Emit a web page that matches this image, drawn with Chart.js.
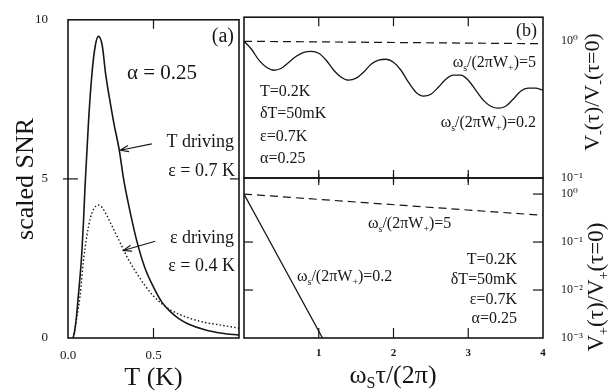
<!DOCTYPE html>
<html>
<head>
<meta charset="utf-8">
<script src="https://cdn.jsdelivr.net/npm/chart.js@4.4.1/dist/chart.umd.min.js"></script>
<style>
  body { margin: 0; background: #fff; }
  #wrap { position: relative; width: 612px; height: 391px; background: #fff; }
  #wrap canvas { position: absolute; left: 0; top: 0; }
</style>
</head>
<body>
<div id="wrap">
  <canvas id="snrChart" width="612" height="391"></canvas>
  <canvas id="upperChart" width="612" height="391"></canvas>
  <canvas id="lowerChart" width="612" height="391"></canvas>
</div>
<script>
// panel (a): scaled SNR against temperature
const tempTDrive = [0.03, 0.04, 0.05, 0.06, 0.07, 0.08, 0.09, 0.10, 0.12, 0.14, 0.16, 0.178, 0.20, 0.22, 0.25, 0.27, 0.30, 0.325, 0.35, 0.40, 0.45, 0.50, 0.55, 0.60, 0.65, 0.70, 0.80, 0.90, 1.00];
const snrTDrive = [0, 0.25, 0.7, 1.3, 1.9, 2.6, 3.6, 4.8, 6.8, 8.3, 9.2, 9.48, 9.2, 8.3, 7.3, 6.7, 5.9, 5.0, 4.3, 3.1, 2.2, 1.6, 1.12, 0.82, 0.6, 0.45, 0.26, 0.15, 0.09];
const tempEpsDrive = [0.03, 0.05, 0.07, 0.09, 0.11, 0.13, 0.15, 0.178, 0.20, 0.25, 0.30, 0.35, 0.40, 0.45, 0.50, 0.55, 0.60, 0.70, 0.80, 0.90, 1.00];
const snrEpsDrive = [0, 0.6, 1.3, 2.4, 3.2, 3.75, 4.05, 4.18, 4.1, 3.6, 3.05, 2.5, 2.05, 1.65, 1.32, 1.07, 0.88, 0.64, 0.49, 0.40, 0.31];
const snrTicks = [0, 5, 10];
const tempTicks = [0, 0.5];
const tempTickLabels = ['0.0', '0.5'];

// panel (b) top: V-(tau)/V-(tau=0)
const tauSlowMinus = [0, 0.1, 0.2, 0.3, 0.4, 0.5, 0.6, 0.7, 0.8, 0.9, 1.0, 1.1, 1.2, 1.3, 1.4, 1.5, 1.6, 1.7, 1.8, 1.9, 2.0, 2.1, 2.2, 2.3, 2.4, 2.5, 2.6, 2.7, 2.8, 2.9, 3.0, 3.1, 3.2, 3.3, 3.4, 3.5, 3.6, 3.7, 3.8, 3.9, 4.0];
const vSlowMinus = [1.0, 0.874, 0.727, 0.646, 0.614, 0.635, 0.703, 0.777, 0.831, 0.845, 0.818, 0.727, 0.614, 0.546, 0.519, 0.537, 0.594, 0.679, 0.727, 0.739, 0.703, 0.614, 0.502, 0.424, 0.397, 0.410, 0.461, 0.528, 0.565, 0.565, 0.519, 0.439, 0.371, 0.335, 0.324, 0.335, 0.377, 0.431, 0.454, 0.454, 0.439];
const tauFastMinus = [0, 4];
const vFastMinus = [1.0, 0.96];
const minusTicks = [0.1, 1];
const minusTickLabels = ['10⁻¹', '10⁰'];

// panel (b) bottom: V+(tau)/V+(tau=0)
const tauSlowPlus = [0, 1.05];
const vSlowPlus = [1.0, 0.001];
const tauFastPlus = [0, 4];
const vFastPlus = [1.0, 0.36];
const plusTicks = [0.001, 0.01, 0.1, 1];
const plusTickLabels = ['10⁻³', '10⁻²', '10⁻¹', '10⁰'];
const tauTicks = [1, 2, 3, 4];

const INK = '#161616';
const SERIF = '"Liberation Serif", "DejaVu Serif", serif';
Chart.defaults.font.family = SERIF;
Chart.defaults.color = INK;

function zip(xs, ys) {
  return xs.map((x, i) => ({ x: x, y: ys[i] }));
}

// text with sub/superscripts, y is the middle of the capitals
function drawRich(ctx, item) {
  const size = item.size;
  ctx.save();
  ctx.translate(item.x, item.y);
  if (item.rot) ctx.rotate(item.rot);
  const fonts = item.parts.map(p => (p[1] ? Math.round(size * 0.62) : size) + 'px ' + SERIF);
  let w = 0;
  item.parts.forEach((p, i) => { ctx.font = fonts[i]; w += ctx.measureText(p[0]).width; });
  let cx = item.align === 'right' ? -w : item.align === 'center' ? -w / 2 : 0;
  ctx.textAlign = 'left';
  ctx.textBaseline = 'alphabetic';
  ctx.fillStyle = INK;
  item.parts.forEach((p, i) => {
    ctx.font = fonts[i];
    const dy = p[1] === 'sub' ? size * 0.22 : p[1] === 'sup' ? -size * 0.4 : 0;
    ctx.fillText(p[0], cx, size * 0.33 + dy);
    cx += ctx.measureText(p[0]).width;
  });
  ctx.restore();
}

// box round the plot area and the inward tick marks
const framePlugin = {
  id: 'frame',
  afterDatasetsDraw(chart, args, opts) {
    const { ctx, chartArea: a, scales } = chart;
    ctx.save();
    ctx.strokeStyle = INK;
    ctx.lineWidth = opts.width || 1.6;
    ctx.strokeRect(a.left, a.top, a.right - a.left, a.bottom - a.top);
    ctx.lineWidth = 1.2;
    (opts.marks || []).forEach(m => {
      const s = scales[m.scale];
      const out = m.out || 0;
      m.values.forEach(v => {
        const p = s.getPixelForValue(v);
        ctx.beginPath();
        if (m.side === 'top') { ctx.moveTo(p, a.top - out); ctx.lineTo(p, a.top + m.len); }
        if (m.side === 'bottom') { ctx.moveTo(p, a.bottom + out); ctx.lineTo(p, a.bottom - m.len); }
        if (m.side === 'left') { ctx.moveTo(a.left - out, p); ctx.lineTo(a.left + m.len, p); }
        if (m.side === 'right') { ctx.moveTo(a.right + out, p); ctx.lineTo(a.right - m.len, p); }
        ctx.stroke();
      });
    });
    ctx.restore();
  }
};

const notesPlugin = {
  id: 'notes',
  afterDraw(chart, args, opts) {
    const { ctx, scales } = chart;
    (opts.items || []).forEach(it => drawRich(ctx, it));
    ctx.save();
    ctx.strokeStyle = INK;
    ctx.lineWidth = 1.1;
    (opts.arrows || []).forEach(ar => {
      const x0 = scales.x.getPixelForValue(ar.from[0]), y0 = scales.y.getPixelForValue(ar.from[1]);
      const x1 = scales.x.getPixelForValue(ar.to[0]), y1 = scales.y.getPixelForValue(ar.to[1]);
      const ang = Math.atan2(y1 - y0, x1 - x0);
      ctx.beginPath();
      ctx.moveTo(x0, y0);
      ctx.lineTo(x1, y1);
      ctx.moveTo(x1 - 9 * Math.cos(ang - 0.35), y1 - 9 * Math.sin(ang - 0.35));
      ctx.lineTo(x1, y1);
      ctx.lineTo(x1 - 9 * Math.cos(ang + 0.35), y1 - 9 * Math.sin(ang + 0.35));
      ctx.stroke();
    });
    ctx.restore();
  }
};

const omega = (tail) => [['ω'], ['s', 'sub'], ['/(2πW'], ['+', 'sub'], [')=' + tail]];

const lineStyle = { borderColor: INK, pointRadius: 0, fill: false, cubicInterpolationMode: 'monotone' };

// ---- panel (a)
new Chart(document.getElementById('snrChart'), {
  type: 'line',
  data: {
    datasets: [
      { ...lineStyle, label: 'T driving', data: zip(tempTDrive, snrTDrive), borderWidth: 1.6 },
      { ...lineStyle, label: 'ε driving', data: zip(tempEpsDrive, snrEpsDrive), borderWidth: 1.4, borderDash: [1.5, 2.2] }
    ]
  },
  options: {
    responsive: false,
    animation: false,
    layout: { padding: { left: 0, top: 16, right: 373, bottom: 0 } },
    plugins: {
      legend: { display: false },
      tooltip: { enabled: false },
      frame: {
        marks: [
          { scale: 'x', values: [0.5], side: 'top', len: 9 },
          { scale: 'x', values: [0.5], side: 'bottom', len: 10 },
          { scale: 'y', values: [5], side: 'left', len: 10, out: 5 },
          { scale: 'y', values: [5], side: 'right', len: 9 }
        ]
      },
      notes: {
        items: [
          { parts: [['(a)']], x: 234, y: 35, size: 20, align: 'right' },
          { parts: [['α = 0.25']], x: 127, y: 72, size: 21, align: 'left' },
          { parts: [['T driving']], x: 234, y: 141, size: 18, align: 'right' },
          { parts: [['ε = 0.7 K']], x: 235, y: 170, size: 18, align: 'right' },
          { parts: [['ε driving']], x: 234, y: 237, size: 18, align: 'right' },
          { parts: [['ε = 0.4 K']], x: 235, y: 265, size: 18, align: 'right' }
        ],
        arrows: [
          { from: [0.49, 6.1], to: [0.305, 5.9] },
          { from: [0.51, 3.04], to: [0.323, 2.75] }
        ]
      }
    },
    scales: {
      x: {
        type: 'linear', min: 0, max: 1,
        grid: { display: false }, border: { display: false },
        afterBuildTicks: s => { s.ticks = tempTicks.map(v => ({ value: v })); },
        afterFit: s => { s.height = 53; },
        ticks: { padding: 2, font: { size: 13 }, color: INK, callback: v => tempTickLabels[tempTicks.indexOf(v)] },
        title: { display: true, text: 'T (K)', font: { size: 26, lineHeight: 1 }, padding: 0, color: INK }
      },
      y: {
        type: 'linear', min: 0, max: 10, position: 'left',
        grid: { display: false }, border: { display: false },
        afterBuildTicks: s => { s.ticks = snrTicks.map(v => ({ value: v })); },
        afterFit: s => { s.width = 68; },
        ticks: { padding: 12, font: { size: 13 }, color: INK },
        title: { display: true, text: 'scaled SNR', font: { size: 26, lineHeight: 1 }, padding: { top: 13, bottom: 0 }, color: INK }
      }
    }
  },
  plugins: [framePlugin, notesPlugin]
});

// ---- panel (b), upper half
new Chart(document.getElementById('upperChart'), {
  type: 'line',
  data: {
    datasets: [
      { ...lineStyle, label: 'ω/(2πW+)=5', data: zip(tauFastMinus, vFastMinus), borderWidth: 1.2, borderDash: [8, 5] },
      { ...lineStyle, label: 'ω/(2πW+)=0.2', data: zip(tauSlowMinus, vSlowMinus), borderWidth: 1.3 }
    ]
  },
  options: {
    responsive: false,
    animation: false,
    layout: { padding: { left: 244, top: 17, right: 0, bottom: 213 } },
    plugins: {
      legend: { display: false },
      tooltip: { enabled: false },
      frame: {
        marks: [
          { scale: 'x', values: [1, 2, 3], side: 'top', len: 9 },
          { scale: 'x', values: [1, 2, 3], side: 'bottom', len: 8, out: 4 }
        ]
      },
      notes: {
        items: [
          { parts: [['(b)']], x: 537, y: 30, size: 18, align: 'right' },
          { parts: omega('5'), x: 536, y: 62, size: 16, align: 'right' },
          { parts: omega('0.2'), x: 536, y: 122, size: 16, align: 'right' },
          { parts: [['T=0.2K']], x: 260, y: 91, size: 16, align: 'left' },
          { parts: [['δT=50mK']], x: 260, y: 113, size: 16, align: 'left' },
          { parts: [['ε=0.7K']], x: 260, y: 136, size: 16, align: 'left' },
          { parts: [['α=0.25']], x: 260, y: 158, size: 16, align: 'left' },
          { parts: [['V'], ['-', 'sub'], ['(τ)/V'], ['-', 'sub'], ['(τ=0)']], x: 592, y: 92, size: 22, align: 'center', rot: -Math.PI / 2 }
        ]
      }
    },
    scales: {
      x: { type: 'linear', min: 0, max: 4, display: false },
      y: {
        type: 'logarithmic', min: 0.1, max: 1.5, position: 'right',
        grid: { display: false }, border: { display: false },
        afterBuildTicks: s => { s.ticks = minusTicks.map(v => ({ value: v })); },
        afterFit: s => { s.width = 69; },
        ticks: { padding: 10, font: { size: 12 }, color: INK, callback: v => minusTickLabels[minusTicks.indexOf(v)] }
      }
    }
  },
  plugins: [framePlugin, notesPlugin]
});

// ---- panel (b), lower half
new Chart(document.getElementById('lowerChart'), {
  type: 'line',
  data: {
    datasets: [
      { ...lineStyle, label: 'ω/(2πW+)=5', data: zip(tauFastPlus, vFastPlus), borderWidth: 1.2, borderDash: [8, 5] },
      { ...lineStyle, label: 'ω/(2πW+)=0.2', data: zip(tauSlowPlus, vSlowPlus), borderWidth: 1.3 }
    ]
  },
  options: {
    responsive: false,
    animation: false,
    layout: { padding: { left: 244, top: 178, right: 0, bottom: 0 } },
    plugins: {
      legend: { display: false },
      tooltip: { enabled: false },
      frame: {
        marks: [
          { scale: 'x', values: [1, 2, 3], side: 'top', len: 7, out: 4 },
          { scale: 'x', values: [1, 2, 3], side: 'bottom', len: 10 },
          { scale: 'y', values: [0.01, 0.1], side: 'left', len: 9 },
          { scale: 'y', values: [0.01, 0.1, 1], side: 'right', len: 10 }
        ]
      },
      notes: {
        items: [
          { parts: omega('5'), x: 368, y: 223, size: 16, align: 'left' },
          { parts: omega('0.2'), x: 297, y: 276, size: 16, align: 'left' },
          { parts: [['T=0.2K']], x: 517, y: 259, size: 16, align: 'right' },
          { parts: [['δT=50mK']], x: 517, y: 279, size: 16, align: 'right' },
          { parts: [['ε=0.7K']], x: 517, y: 299, size: 16, align: 'right' },
          { parts: [['α=0.25']], x: 517, y: 318, size: 16, align: 'right' },
          { parts: [['V'], ['+', 'sub'], ['(τ)/V'], ['+', 'sub'], ['(τ=0)']], x: 595, y: 287, size: 23, align: 'center', rot: -Math.PI / 2 },
          { parts: [['ω'], ['S', 'sub'], ['τ/(2π)']], x: 393, y: 374, size: 26, align: 'center' }
        ]
      }
    },
    scales: {
      x: {
        type: 'linear', min: 0, max: 4, position: 'bottom',
        grid: { display: false }, border: { display: false },
        afterBuildTicks: s => { s.ticks = tauTicks.map(v => ({ value: v })); },
        afterFit: s => { s.height = 53; },
        ticks: { padding: 1, font: { size: 11, weight: 'bold' }, color: INK }
      },
      y: {
        type: 'logarithmic', min: 0.001, max: 2.16, position: 'right',
        grid: { display: false }, border: { display: false },
        afterBuildTicks: s => { s.ticks = plusTicks.map(v => ({ value: v })); },
        afterFit: s => { s.width = 69; },
        ticks: { padding: 10, font: { size: 12 }, color: INK, callback: v => plusTickLabels[plusTicks.indexOf(v)] }
      }
    }
  },
  plugins: [framePlugin, notesPlugin]
});
</script>
</body>
</html>
